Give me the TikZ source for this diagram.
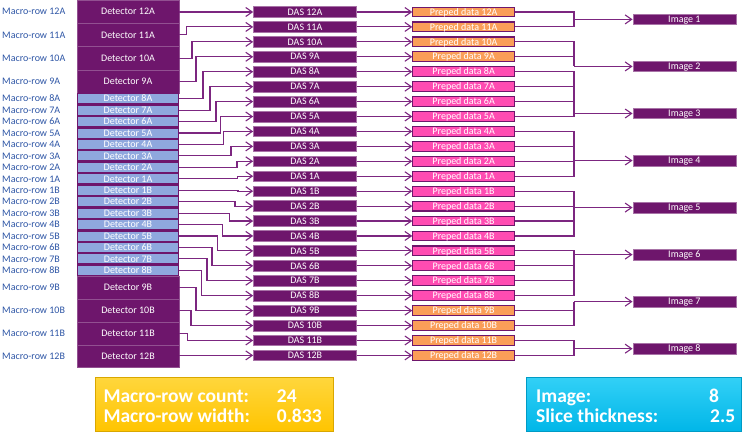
\documentclass[tikz,border=0pt]{standalone}
\usepackage{fontspec}
\setmainfont{Carlito}
\usetikzlibrary{arrows.meta}
\definecolor{gepurple}{RGB}{110,22,108}
\definecolor{lineprp}{RGB}{124,38,128}
\definecolor{ltblue}{RGB}{143,168,222}
\definecolor{prorange}{RGB}{250,158,88}
\definecolor{prpink}{RGB}{255,76,178}
\definecolor{lblblue}{RGB}{45,85,165}
\definecolor{goldtop}{RGB}{255,214,60}
\definecolor{goldbot}{RGB}{255,196,0}
\definecolor{cyantop}{RGB}{50,208,246}
\definecolor{cyanbot}{RGB}{0,182,232}
\begin{document}
\begin{tikzpicture}[x=1pt,y=-1pt,
  smalltxt/.style={font=\fontsize{10}{10}\selectfont, text height=6.4pt, text depth=0pt},
  lbl/.style={smalltxt, anchor=west, text=lblblue, inner sep=0pt},
  detA/.style={smalltxt, fill=gepurple, draw=gepurple!75!white, line width=0.4pt, minimum width=102pt, minimum height=23.25pt, inner sep=0pt, text=white},
  detB/.style={detA, minimum height=22.9pt},
  detL/.style={smalltxt, fill=ltblue, draw=gepurple, line width=1.2pt, minimum width=100.8pt, minimum height=10.2pt, inner sep=0pt, text=white},
  das/.style={smalltxt, fill=gepurple, draw=gepurple!60!white, line width=0.6pt, minimum width=103pt, minimum height=10.6pt, inner sep=0pt, text=white},
  prep/.style={smalltxt, draw=gepurple, line width=1.1pt, minimum width=101.6pt, minimum height=9.8pt, inner sep=0pt, text=white},
  imgbox/.style={das},
  conn/.style={draw=lineprp, line width=1.1pt, -{Straight Barb[length=6.5pt,width=9pt,line width=1.1pt]}},
  conn0/.style={draw=lineprp, line width=1.1pt},
  bigtxt/.style={font=\fontsize{19.5}{20}\selectfont\bfseries, text=white, anchor=base west, inner sep=0pt},
]
\useasboundingbox (0,0) rectangle (746,434);
% detector column background
\fill[gepurple] (77,0) rectangle (179,367.6);
\coordinate (X) at (574,0);
\foreach \i/\nm/\cy/\st/\bx/\pc in {
0/12A/11.63/detA/0/prorange,
1/11A/34.88/detA/186.5/prorange,
2/10A/58.13/detA/192/prorange,
3/9A/81.38/detA/196/prorange,
4/8A/98.72/detL/203/prpink,
5/7A/110.16/detL/210/prpink,
6/6A/121.60/detL/216/prpink,
7/5A/133.04/detL/220.5/prpink,
8/4A/144.48/detL/223.5/prpink,
9/3A/155.92/detL/231/prpink,
10/2A/167.36/detL/237/prpink,
11/1A/178.80/detL/237.5/prpink,
12/1B/190.24/detL/238/prpink,
13/2B/201.68/detL/235/prpink,
14/3B/213.12/detL/229.5/prpink,
15/4B/224.56/detL/222.5/prpink,
16/5B/236.00/detL/217.5/prpink,
17/6B/247.44/detL/212/prpink,
18/7B/258.88/detL/207/prpink,
19/8B/270.32/detL/201.5/prpink,
20/9B/287.45/detB/196/prorange,
21/10B/310.35/detB/191/prorange,
22/11B/333.25/detB/187.5/prorange,
23/12B/356.15/detB/0/prorange}{
  \pgfmathsetmacro\dy{12+14.93*\i}
  \node[lbl] (lab\i) at (2,\cy) {Macro-row \nm};
  \node[\st] (det\i) at (128,\cy) {Detector \nm};
  \node[das] (das\i) at (305,\dy) {DAS \nm};
  \node[prep, fill=\pc] (prep\i) at (463.65,\dy) {Preped data \nm};
  \ifdim\bx pt=0pt
    \draw[conn] (det\i.east |- das\i.west) -- (das\i.west);
  \else
    \coordinate (B\i) at (\bx,0);
    \draw[conn] (det\i.east) -- (det\i.east -| B\i) |- (das\i.west);
  \fi
  \draw[conn] (das\i.east) -- (prep\i.west);
}
\foreach \k in {1,...,8}{
  \pgfmathsetmacro\iy{19.4+47.04*(\k-1)}
  \node[imgbox] (img\k) at (684.35,\iy) {Image \k};
}
\foreach \k/\a/\b in {1/0/1,2/2/3,3/4/7,4/8/11,5/12/15,6/16/19,7/20/21,8/22/23}{
  \foreach \j in {\a,...,\b}{
    \draw[conn0] (prep\j.east) -- (prep\j.east -| X) -- (X |- img\k.west);
  }
  \draw[conn] (X |- img\k.west) -- (img\k.west);
}
% bottom info boxes
\node[draw=goldbot!85!black, line width=0.5pt, top color=goldtop, bottom color=goldbot, minimum width=238pt, minimum height=54pt, inner sep=0pt] (ybox) at (214,404.7) {};
\node[draw=cyanbot!85!black, line width=0.5pt, top color=cyantop, bottom color=cyanbot, minimum width=214.3pt, minimum height=54pt, inner sep=0pt] (cbox) at (633.85,404.7) {};
\node[bigtxt] (t1) at (103.3,402) {Macro-row count:};
\node[bigtxt] (t2) at (276.7,402) {24};
\node[bigtxt] (t3) at (103.3,422) {Macro-row width:};
\node[bigtxt] (t4) at (276.7,422) {0.833};
\node[bigtxt] (t5) at (536,402) {Image:};
\node[bigtxt] (t6) at (709,402) {8};
\node[bigtxt] (t7) at (536,422) {Slice thickness:};
\node[bigtxt] (t8) at (710,422) {2.5};
\end{tikzpicture}
\end{document}
